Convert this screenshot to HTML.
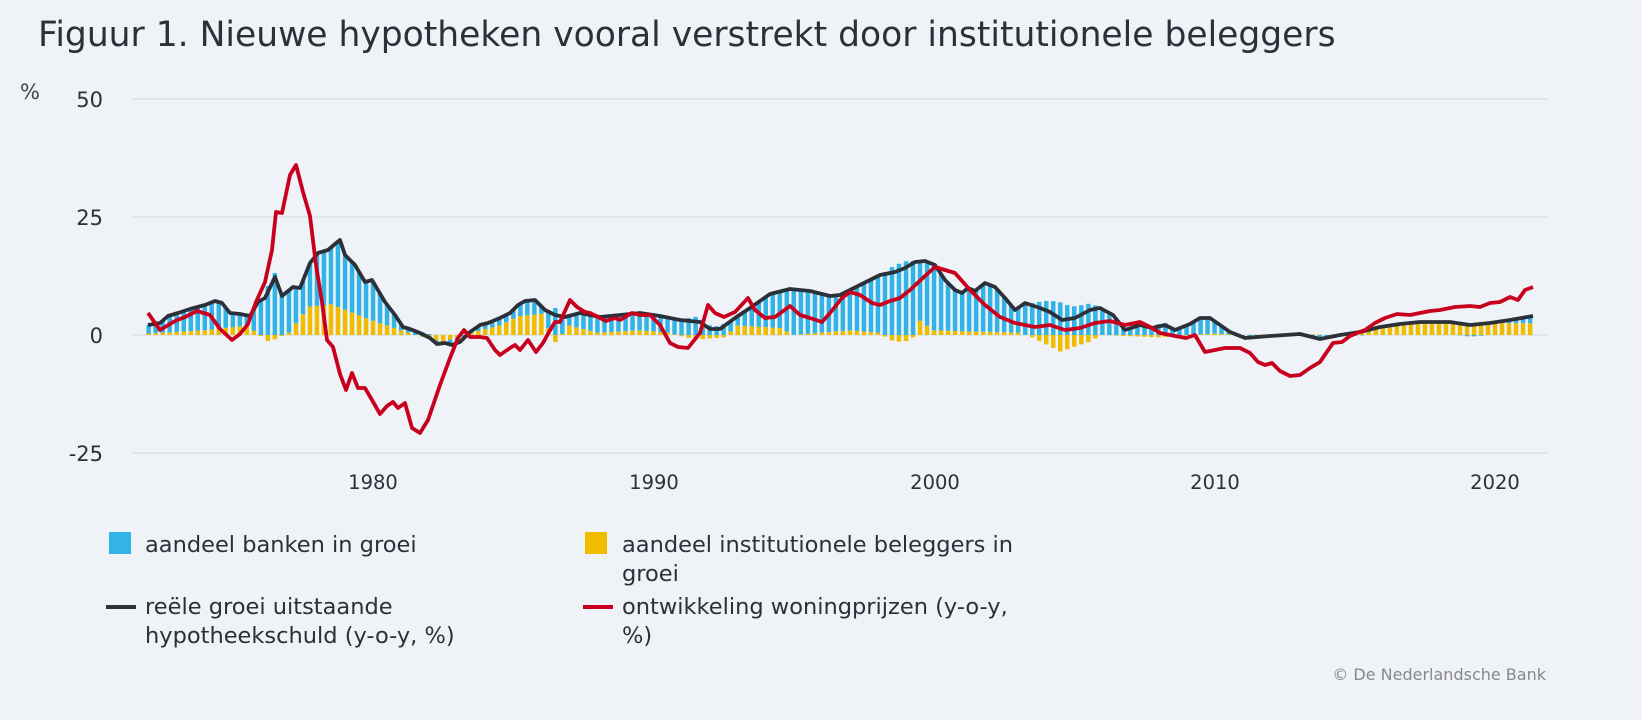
<!DOCTYPE html>
<html><head><meta charset="utf-8"><style>
html,body{margin:0;padding:0;background:#eff3f8;}
body{width:1642px;height:720px;overflow:hidden;font-family:"Liberation Sans","DejaVu Sans",sans-serif;}
</style></head><body>
<svg id="s" width="1642" height="720" xmlns="http://www.w3.org/2000/svg" style="position:absolute;left:0;top:0">
<rect width="1642" height="720" fill="#eff3f8"/>
<text x="38" y="46" font-size="34.5" fill="#2b3039" font-family="DejaVu Sans, sans-serif">Figuur 1. Nieuwe hypotheken vooral verstrekt door institutionele beleggers</text>
<text x="20" y="99" font-size="21" fill="#444" font-family="DejaVu Sans, sans-serif">%</text>
<g stroke="#dde1e7" stroke-width="1.5">
<line x1="132" x2="1548" y1="99" y2="99"/><line x1="132" x2="1548" y1="217" y2="217"/><line x1="132" x2="1548" y1="335" y2="335"/><line x1="132" x2="1548" y1="453" y2="453"/>
</g>
<g font-size="21" fill="#2b3039" text-anchor="end" font-family="DejaVu Sans, sans-serif">
<text x="103" y="107">50</text><text x="103" y="225">25</text><text x="103" y="343">0</text><text x="103" y="461">-25</text>
</g>
<g font-size="19.5" fill="#2b3039" text-anchor="middle" font-family="DejaVu Sans, sans-serif">
<text x="373" y="489">1980</text><text x="654" y="489">1990</text><text x="935" y="489">2000</text><text x="1215" y="489">2010</text><text x="1495" y="489">2020</text>
</g>
<g id="bars"></g>
<path id="blk" fill="none" stroke="#2b3039" stroke-width="3.8" stroke-linejoin="round"/>
<path id="red" fill="none" stroke="#c8001e" stroke-width="3.8" stroke-linejoin="round"/>
<g font-size="22.5" fill="#2b3039" font-family="DejaVu Sans, sans-serif">
<rect x="109" y="532" width="22" height="22" fill="#32b4e6"/>
<text x="145" y="552">aandeel banken in groei</text>
<rect x="585" y="532" width="22" height="22" fill="#f0bc00"/>
<text x="622" y="552">aandeel institutionele beleggers in</text>
<text x="622" y="581">groei</text>
<line x1="106" x2="136" y1="607" y2="607" stroke="#2b3039" stroke-width="4"/>
<text x="145" y="614">reële groei uitstaande</text>
<text x="145" y="643">hypotheekschuld (y-o-y, %)</text>
<line x1="583" x2="613" y1="607" y2="607" stroke="#c8001e" stroke-width="4"/>
<text x="622" y="614">ontwikkeling woningprijzen (y-o-y,</text>
<text x="622" y="643">%)</text>
</g>
<text x="1546" y="680" font-size="16" fill="#888" text-anchor="end" font-family="DejaVu Sans, sans-serif">© De Nederlandsche Bank</text>
</svg>
<script>
var B=[148,325,160,323,168,316,178,313,190,309,205,305,215,301,222,303,230,313,240,314,250,316,258,302,265,298,275,277,282,296,293,287,300,288,310,263,318,253,328,250,335,244,340,240,345,255,355,265,365,282,372,280,385,302,395,315,403,327,410,329,420,333,430,338,437,344,445,343,452,345,460,342,470,332,480,325,488,323,500,318,510,313,518,305,525,301,535,300,545,310,555,315,565,317,580,313,600,317,620,315,640,313,660,316,680,320,700,322,710,329,720,329,735,318,750,308,770,294,790,289,810,291,830,296,840,295,860,285,880,275,895,272,905,268,915,262,925,261,935,265,945,280,955,290,962,293,968,288,975,291,985,283,995,287,1005,298,1015,310,1025,303,1040,308,1050,312,1062,320,1075,318,1090,310,1100,308,1113,315,1125,330,1140,325,1152,328,1165,325,1175,330,1190,324,1200,318,1210,318,1220,325,1230,332,1245,338,1270,336,1300,334,1320,339,1340,335,1360,332,1380,327,1400,324,1420,322,1450,322,1470,325,1490,323,1510,320,1533,316];
var R=[148,313,160,330,175,321,185,317,197,311,210,315,220,329,232,340,240,334,248,324,256,302,265,282,272,250,276,212,282,213,290,175,296,165,303,192,310,216,316,265,322,302,327,340,333,347,340,374,346,390,352,373,358,388,365,388,372,400,380,414,387,406,393,402,398,408,405,403,412,428,420,433,428,420,440,385,450,358,458,338,464,330,470,337,480,337,487,338,495,350,500,355,510,348,515,345,520,350,528,340,536,352,543,343,549,332,555,322,560,322,570,300,577,307,585,312,590,313,598,317,606,321,615,318,620,320,632,313,640,315,650,315,660,325,670,343,678,347,688,348,700,333,708,305,715,313,724,317,735,312,748,298,755,310,765,318,775,317,790,306,800,315,810,318,822,322,830,313,842,298,850,292,860,295,872,303,880,305,890,301,900,298,910,290,925,276,935,267,955,273,970,290,985,305,1000,317,1015,323,1035,327,1050,325,1065,330,1080,328,1095,323,1110,321,1125,325,1140,322,1152,328,1160,333,1175,336,1186,338,1195,335,1205,352,1215,350,1225,348,1240,348,1250,353,1258,362,1265,365,1272,363,1280,371,1290,376,1300,375,1310,368,1320,362,1333,343,1342,342,1350,336,1357,333,1365,330,1375,323,1385,318,1397,314,1410,315,1430,311,1440,310,1455,307,1470,306,1480,307,1490,303,1500,302,1510,297,1518,300,1525,290,1533,287];
var Y=[1972,0.3,1974,1,1975.5,2,1976.3,-1.5,1977,0.5,1977.7,6,1978.5,6.5,1980,3,1981.5,0,1982.5,-1.5,1983.5,0.5,1984.5,2,1985.2,4,1986,4.5,1986.5,-1.5,1987,2,1988,0.5,1989.5,1,1990.5,0.5,1991.5,-1,1992.5,-0.5,1993,2,1994.5,1.5,1995,0,1997,1,1998,0.5,1998.6,-1.5,1999.2,-1.2,1999.5,3,2000,1,2001,0.8,2003,0.5,2003.5,-0.5,2004.5,-3.5,2005.5,-1.5,2006,0,2008,-0.5,2010,0.3,2011,0,2013,0.3,2014,0,2015.5,1,2017,2.5,2021.5,2.5];
function toPath(a){var d="";for(var i=0;i<a.length;i+=2)d+=(i?"L":"M")+a[i]+" "+a[i+1];return d;}
document.getElementById("blk").setAttribute("d",toPath(B));
document.getElementById("red").setAttribute("d",toPath(R));
function interp(a,x){if(x<=a[0])return a[1];for(var i=2;i<a.length;i+=2){if(x<=a[i]){var f=(x-a[i-2])/(a[i]-a[i-2]);return a[i-1]+f*(a[i+1]-a[i-1]);}}return a[a.length-1];}
var s=4.72,z=335,h="";
for(var q=0;q<198;q++){var t=1972+q*0.25;var x=373+(t-1980)*28.05;
 var bv=(z-interp(B,x))/s;var yv=interp(Y,t);var bl=bv-yv;
 var xl=(x-2.2).toFixed(1);
 var y0=z,y1=z-yv*s;h+='<rect x="'+xl+'" y="'+Math.min(y0,y1).toFixed(1)+'" width="4.5" height="'+Math.abs(y1-y0).toFixed(1)+'" fill="#f0bc00"/>';
 var b0,b1;
 if(bl>=0){b0=yv>=0?y1:z;b1=b0-bl*s;}else{b0=yv<0?y1:z;b1=b0-bl*s;}
 h+='<rect x="'+xl+'" y="'+Math.min(b0,b1).toFixed(1)+'" width="4.5" height="'+Math.abs(b1-b0).toFixed(1)+'" fill="#32b4e6"/>';
}
document.getElementById("bars").innerHTML=h;
</script>
</body></html>
